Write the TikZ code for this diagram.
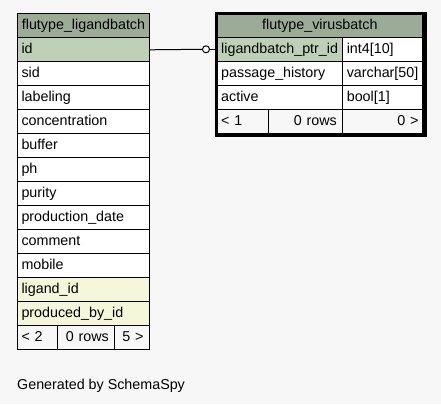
\documentclass[tikz,border=0pt]{standalone}
\usepackage{fontspec}
\setmainfont{Liberation Sans}
\usepackage[]{xcolor}
\usetikzlibrary{shapes, calc}

\definecolor{pageBg}{HTML}{F7F7F7}
\definecolor{headBg}{HTML}{9BAB96}
\definecolor{keyBg}{HTML}{BED1B8}
\definecolor{fkeyBg}{HTML}{F4F7DA}

\tikzset{
	cell/.style={draw, fill=white, anchor=north west, inner xsep=4pt, inner ysep=0pt, minimum height=24pt, text height=10.5pt, text depth=3pt, align=left},
	headcell/.style={cell, fill=headBg, align=center},
	footcell/.style={cell, fill=pageBg},
	countcell/.style={footcell, align=right, inner xsep=6pt},
}

\begin{document}
\begin{tikzpicture}[x=1pt, y=-1pt, line width=1pt, font=\fontsize{14.3}{17}\selectfont]
	\def\LW{124pt}
	\def\CA{117.6pt}
	\def\CB{71.7pt}
	
	\useasboundingbox[fill=pageBg] (0,0) rectangle (441,404);
	
	% table flutype_ligandbatch
	\node[headcell, text width=\LW]	(lhead)	at (17,13.3)	{flutype\_ligandbatch};
	\node[cell, fill=keyBg, text width=\LW]	(lid)	at (17,37.3)	{id};
	\node[cell, text width=\LW]	(lsid)	at (17,61.3)	{sid};
	\node[cell, text width=\LW]	(llab)	at (17,85.3)	{labeling};
	\node[cell, text width=\LW]	(lconc)	at (17,109.3)	{concentration};
	\node[cell, text width=\LW]	(lbuf)	at (17,133.3)	{buffer};
	\node[cell, text width=\LW]	(lph)	at (17,157.3)	{ph};
	\node[cell, text width=\LW]	(lpur)	at (17,181.3)	{purity};
	\node[cell, text width=\LW]	(lprod)	at (17,205.3)	{production\_date};
	\node[cell, text width=\LW]	(lcom)	at (17,229.3)	{comment};
	\node[cell, text width=\LW]	(lmob)	at (17,253.3)	{mobile};
	\node[cell, fill=fkeyBg, text width=\LW]	(llig)	at (17,277.3)	{ligand\_id};
	\node[cell, fill=fkeyBg, text width=\LW]	(lby)	at (17,301.3)	{produced\_by\_id};
	\node[footcell, text width=32.3pt]	(lparents)	at (17,325.3)	{< 2};
	\node[countcell, text width=45pt]	(lrows)	at (57.3,325.3)	{0 rows};
	\node[countcell, text width=22.7pt]	(lkids)	at (114.3,325.3)	{5 >};
	
	% table flutype_virusbatch
	\node[headcell, text width=197.3pt]	(vhead)	at (216.7,13.3)	{flutype\_virusbatch};
	\node[cell, fill=keyBg, text width=\CA]	(vptr)	at (216.7,37.3)	{ligandbatch\_ptr\_id};
	\node[cell, text width=\CB]	(vptrT)	at (342.3,37.3)	{int4[10]};
	\node[cell, text width=\CA]	(vpas)	at (216.7,61.3)	{passage\_history};
	\node[cell, text width=\CB]	(vpasT)	at (342.3,61.3)	{varchar[50]};
	\node[cell, text width=\CA]	(vact)	at (216.7,85.3)	{active};
	\node[cell, text width=\CB]	(vactT)	at (342.3,85.3)	{bool[1]};
	\node[footcell, text width=43pt]	(vparents)	at (216.7,109.3)	{< 1};
	\node[countcell, text width=62.6pt]	(vrows)	at (267.7,109.3)	{0 rows};
	\node[countcell, inner xsep=4pt, text width=71.7pt]	(vkids)	at (342.3,109.3)	{0 >};
	\node[draw, line width=3.3pt, anchor=north west, inner sep=0pt, minimum width=208.3pt, minimum height=121.7pt]	(vframe)	at (215,12)	{};
	
	% relationship
	\node[circle, draw, fill=white, inner sep=0pt, minimum size=7pt]	(optend)	at (206,49.3)	{};
	\draw	(lid.east) -- (optend.west);
	\draw	(optend.east) -- (optend.east -| vframe.west);
	
	\node[anchor=base west, inner sep=0pt]	(gen)	at (16.7,389.3)	{Generated by SchemaSpy};
\end{tikzpicture}
\end{document}
